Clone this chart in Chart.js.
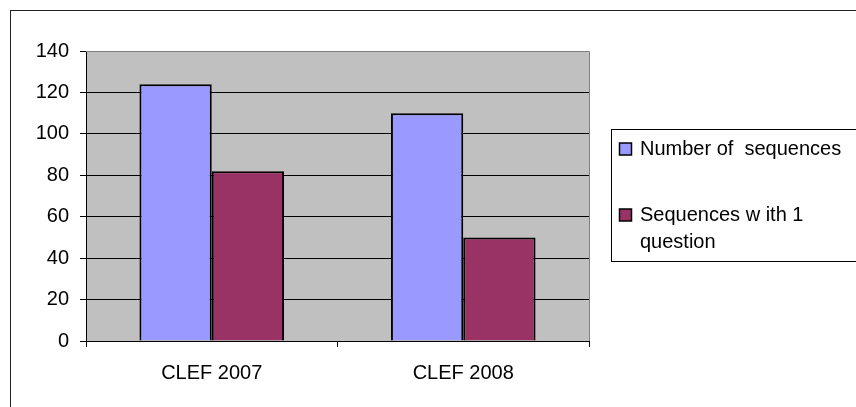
<!DOCTYPE html>
<html>
<head>
<meta charset="utf-8">
<script src="https://cdn.jsdelivr.net/npm/chart.js@4.4.1/dist/chart.umd.min.js"></script>
<style>
  html, body { margin: 0; padding: 0; background: #fff; }
  #wrap { width: 856px; height: 407px; }
</style>
</head>
<body>
<div id="wrap"><canvas id="barChart" width="856" height="407"></canvas></div>
<script>
const categories = ['CLEF 2007', 'CLEF 2008'];
const seriesNames = ['Number of sequences', 'Sequences w ith 1 question'];
const numberOfSequences = [124, 110];
const sequencesWithOneQuestion = [82, 50];
const yTicks = [0, 20, 40, 60, 80, 100, 120, 140];

document.addEventListener("DOMContentLoaded", function () {
    const ctx = document.getElementById('barChart').getContext("2d");
    const FONT = "'Liberation Sans', Arial, sans-serif";

    // grey plot area + outer frame
    const frame = {
        id: 'frame',
        beforeDraw(chart) {
            const c = chart.ctx, a = chart.chartArea;
            c.save();
            c.fillStyle = '#fff';
            c.fillRect(0, 0, chart.width, chart.height);
            c.fillStyle = '#C0C0C0';
            c.fillRect(a.left, a.top, a.right - a.left, a.bottom - a.top);
            c.strokeStyle = '#222';
            c.lineWidth = 1;
            c.strokeRect(10.5, 10.5, 900, 500);
            c.restore();
        },
        beforeDatasetsDraw(chart) {
            const c = chart.ctx, a = chart.chartArea;
            c.save();
            c.strokeStyle = '#808080';
            c.lineWidth = 1;
            c.beginPath();
            c.moveTo(a.left, a.top + 0.5);
            c.lineTo(a.right + 0.5, a.top + 0.5);
            c.lineTo(a.right + 0.5, a.bottom);
            c.stroke();
            c.restore();
        },
        afterDraw(chart) {
            // legend box like the Excel one
            const c = chart.ctx;
            c.save();
            c.strokeStyle = '#000';
            c.lineWidth = 1;
            c.strokeRect(611.5, 129.5, 300, 132);
            c.font = '20px ' + FONT;
            c.textBaseline = 'middle';
            c.fillStyle = '#000';
            const rows = [
                { y: 149, lines: ['Number of  sequences'] },
                { y: 215, lines: ['Sequences w ith 1', 'question'] }
            ];
            chart.data.datasets.forEach((ds, i) => {
                const r = rows[i];
                c.fillStyle = ds.backgroundColor;
                c.fillRect(619.5, r.y - 6, 12, 12);
                c.strokeStyle = '#000';
                c.lineWidth = 1.5;
                c.strokeRect(619.5, r.y - 6, 12, 12);
                c.fillStyle = '#000';
                r.lines.forEach((t, k) => c.fillText(t, 640, r.y + k * 27));
            });
            c.restore();
        }
    };

    new Chart(ctx, {
        type: 'bar',
        data: {
            labels: categories,
            datasets: [{
                label: seriesNames[0],
                data: numberOfSequences,
                backgroundColor: '#9999FF',
                borderColor: '#000',
                borderWidth: 2
            }, {
                label: seriesNames[1],
                data: sequencesWithOneQuestion,
                backgroundColor: '#993366',
                borderColor: '#000',
                borderWidth: 2
            }]
        },
        options: {
            responsive: false,
            animation: false,
            layout: { padding: { top: 51, right: 267, left: 0, bottom: 0 } },
            datasets: { bar: { barPercentage: 1, categoryPercentage: 0.575 } },
            plugins: { legend: { display: false }, tooltip: { enabled: false } },
            scales: {
                x: {
                    afterFit(scale) { scale.height = 66; },
                    grid: {
                        offset: true,
                        drawOnChartArea: false,
                        tickLength: 6,
                        color: '#000'
                    },
                    border: { color: '#000', width: 1 },
                    ticks: { color: '#000', padding: 14, font: { family: FONT, size: 20 } }
                },
                y: {
                    min: 0,
                    max: 140,
                    afterFit(scale) { scale.width = 86; },
                    afterBuildTicks(scale) { scale.ticks = yTicks.map(v => ({ value: v })); },
                    grid: {
                        color: ctx => ctx.tick && ctx.tick.value === 140 ? '#808080' : '#000',
                        tickColor: '#000',
                        tickLength: 6
                    },
                    border: { color: '#000', width: 1 },
                    ticks: { color: '#000', padding: 11, font: { family: FONT, size: 20 } }
                }
            }
        },
        plugins: [frame]
    });
});
</script>
</body>
</html>
